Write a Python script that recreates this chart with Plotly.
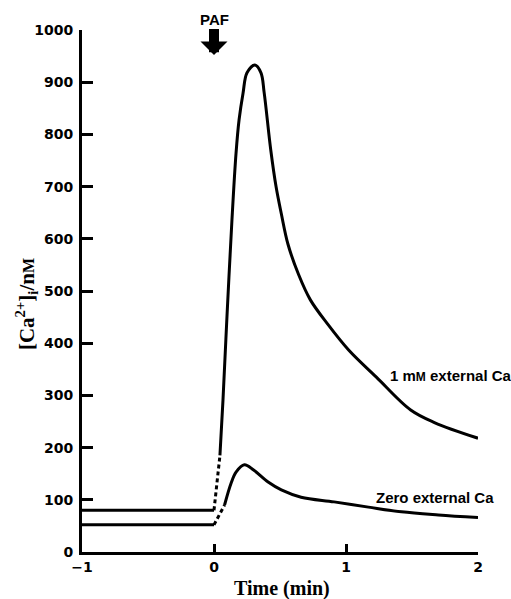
import plotly.graph_objects as go

# ---- data ----
base_t = [-1, 0]
ca1_base = [80, 80]
ca1_dash_t = [0, 0.045]
ca1_dash = [80, 185]
ca1_t = [0.045, 0.068, 0.10, 0.136, 0.167, 0.19, 0.22, 0.25, 0.31, 0.356, 0.38,
         0.43, 0.47, 0.51, 0.56, 0.64, 0.73, 0.86, 1.02, 1.23, 1.49, 1.67, 2.0]
ca1 = [185, 291, 460, 636, 764, 828, 879, 918, 933, 918, 880,
       770, 700, 648, 590, 532, 483, 437, 387, 335, 272, 248, 218]

zero_base = [52, 52]
zero_dash_t = [0, 0.08]
zero_dash = [52, 90]
zero_t = [0.08, 0.13, 0.167, 0.23, 0.30, 0.41, 0.51, 0.66, 0.91, 1.17, 1.42, 1.7, 2.0]
zero = [90, 132, 153, 167, 157, 134, 119, 105, 96, 86, 77, 71, 66]

x_ticks = [-1, 0, 1, 2]
y_ticks = [0, 100, 200, 300, 400, 500, 600, 700, 800, 900, 1000]

label_1mm = "1 m<span style='font-size:12px'>M</span> external Ca"
label_zero = "Zero external Ca"
x_title = "<b>Time (min)</b>"
y_title = "<b>[Ca<sup>2+</sup>]<sub>i</sub>/n<span style='font-size:16px'>M</span></b>"

LW = 3
BLACK = "black"
SANS = "DejaVu Sans"
LSANS = "Liberation Sans"
SERIF = "Liberation Serif"

fig = go.Figure()

def add(x, y, dash="solid", shape="spline"):
    fig.add_trace(go.Scatter(x=x, y=y, mode="lines",
                             line=dict(color=BLACK, width=LW, dash=dash, shape=shape, smoothing=1.0),
                             showlegend=False, hoverinfo="skip", cliponaxis=False))

add(base_t, ca1_base, shape="linear")
add(ca1_dash_t, ca1_dash, dash="4px,3px", shape="linear")
add(ca1_t, ca1)
add(base_t, zero_base, shape="linear")
add(zero_dash_t, zero_dash, dash="4px,3px", shape="linear")
add(zero_t, zero)

fig.add_annotation(x=1.318, y=339, text=label_1mm, showarrow=False,
                   xanchor="left", yanchor="middle",
                   font=dict(family=LSANS, size=15, color=BLACK, weight="bold"))
fig.add_annotation(x=1.212, y=105, text=label_zero, showarrow=False,
                   xanchor="left", yanchor="middle",
                   font=dict(family=LSANS, size=15, color=BLACK, weight="bold"))
fig.add_annotation(x=0, y=952, text="<b>PAF</b>", showarrow=True,
                   ax=0, ay=-36, arrowhead=1, arrowwidth=10, arrowsize=0.45,
                   arrowcolor=BLACK, font=dict(family=LSANS, size=15, color=BLACK))
# axis titles
fig.add_annotation(xref="paper", yref="paper", x=0.505, y=-0.0695, text=x_title,
                   showarrow=False, xanchor="center", yanchor="middle",
                   font=dict(family=SERIF, size=20, color=BLACK))
fig.add_annotation(xref="paper", yref="paper", x=-0.1414, y=0.475, text=y_title,
                   showarrow=False, xanchor="center", yanchor="middle", textangle=-90,
                   font=dict(family=SERIF, size=21, color=BLACK))

fig.update_layout(
    width=511, height=599,
    margin=dict(l=82, r=33, t=30, b=47),
    paper_bgcolor="white", plot_bgcolor="white",
    xaxis=dict(range=[-1, 2], tickvals=x_ticks, ticks="inside", ticklen=8, tickwidth=3,
               tickcolor=BLACK, showline=True, linewidth=3, linecolor=BLACK,
               showgrid=False, zeroline=False, ticklabelstandoff=0, automargin=False,
               tickfont=dict(family=SANS, size=14, color=BLACK, weight="bold")),
    yaxis=dict(range=[0, 1000], tickvals=y_ticks, ticks="inside", ticklen=11, tickwidth=3,
               tickcolor=BLACK, showline=True, linewidth=3, linecolor=BLACK,
               showgrid=False, zeroline=False, ticklabelstandoff=3, automargin=False,
               tickfont=dict(family=SANS, size=14, color=BLACK, weight="bold")),
)

# remove the default 8px page margin so the 511x599 figure fills the window exactly
fig.write_html("out.html", config={"displayModeBar": False},
               post_script="document.body.style.margin='0';document.body.style.overflow='hidden';")
